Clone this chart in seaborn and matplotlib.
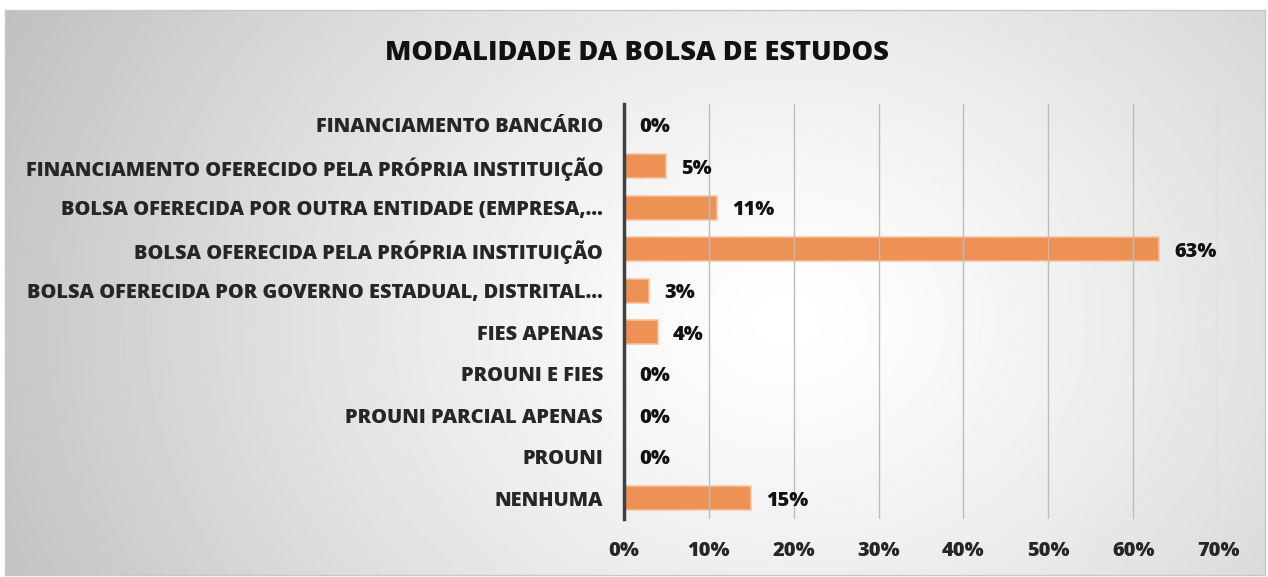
import numpy as np
import pandas as pd
import matplotlib
matplotlib.use("Agg")
import matplotlib.pyplot as plt
import seaborn as sns

categorias = [
    "FINANCIAMENTO BANCÁRIO",
    "FINANCIAMENTO OFERECIDO PELA PRÓPRIA INSTITUIÇÃO",
    "BOLSA OFERECIDA POR OUTRA ENTIDADE (EMPRESA,…",
    "BOLSA OFERECIDA PELA PRÓPRIA INSTITUIÇÃO",
    "BOLSA OFERECIDA POR GOVERNO ESTADUAL, DISTRITAL…",
    "FIES APENAS",
    "PROUNI E FIES",
    "PROUNI PARCIAL APENAS",
    "PROUNI",
    "NENHUMA",
]
percentuais = [0, 5, 11, 63, 3, 4, 0, 0, 0, 15]
xticks = [0, 10, 20, 30, 40, 50, 60, 70]

df = pd.DataFrame({"categoria": categorias, "pct": percentuais})

sns.set_style("white")
plt.rcParams["font.family"] = ["Open Sans", "DejaVu Sans"]

fig = plt.figure(figsize=(12.68, 5.77), dpi=100)

# fundo com gradiente radial
bg = fig.add_axes([0.004, 0.003, 0.994, 0.98])
h, w = 300, 660
yy, xx = np.mgrid[0:h, 0:w]
cx, cy = 0.62 * w, 0.55 * h
r = np.sqrt(((xx - cx) / w) ** 2 + ((yy - cy) / h * 0.55) ** 2)
r = r / r.max()
val = 1.0 - 0.25 * np.clip(r, 0, 1) ** 1.3
bg.imshow(val, cmap="gray", vmin=0, vmax=1, aspect="auto", extent=[0, 1, 0, 1])
bg.set_xticks([])
bg.set_yticks([])
for s in bg.spines.values():
    s.set_color("#c8c8c8")
    s.set_linewidth(1)

ax = fig.add_axes([0.492, 0.1005, 0.4686, 0.7195])
ax.patch.set_alpha(0)
sns.barplot(data=df, x="pct", y="categoria", orient="h", color="#ED8C4C",
            width=0.58, edgecolor="#F7C3A0", linewidth=1.2, saturation=1,
            ax=ax, zorder=2, alpha=0.95)

fs = 14.4
wt = "extra bold"
ax.set_xlim(0, 70)
ax.set_xticks(xticks)
ax.set_xticklabels([f"{t}%" for t in xticks], fontsize=fs, fontweight=wt)
ax.set_yticklabels(categorias, fontsize=fs, fontweight=wt)
ax.tick_params(axis="y", length=0, pad=15)
ax.tick_params(axis="x", length=0, pad=16)
ax.set_xlabel("")
ax.set_ylabel("")
ax.grid(axis="x", color="#bdbdbd", linewidth=1, zorder=3)
ax.set_axisbelow(False)
for s in ["top", "right", "bottom"]:
    ax.spines[s].set_visible(False)
ax.spines["left"].set_color("#404040")
ax.spines["left"].set_linewidth(2.5)
ax.spines["left"].set_zorder(4)

for i, v in enumerate(percentuais):
    ax.text(v + 1.8, i + 0.06, f"{v}%", va="center", ha="left",
            fontsize=fs, fontweight=wt, color="#111111", zorder=5)

fig.text(0.502, 0.908, "MODALIDADE DA BOLSA DE ESTUDOS", ha="center", va="center",
         fontsize=19.5, fontweight=wt, color="#111111")

fig.savefig("out.png", dpi=100)
